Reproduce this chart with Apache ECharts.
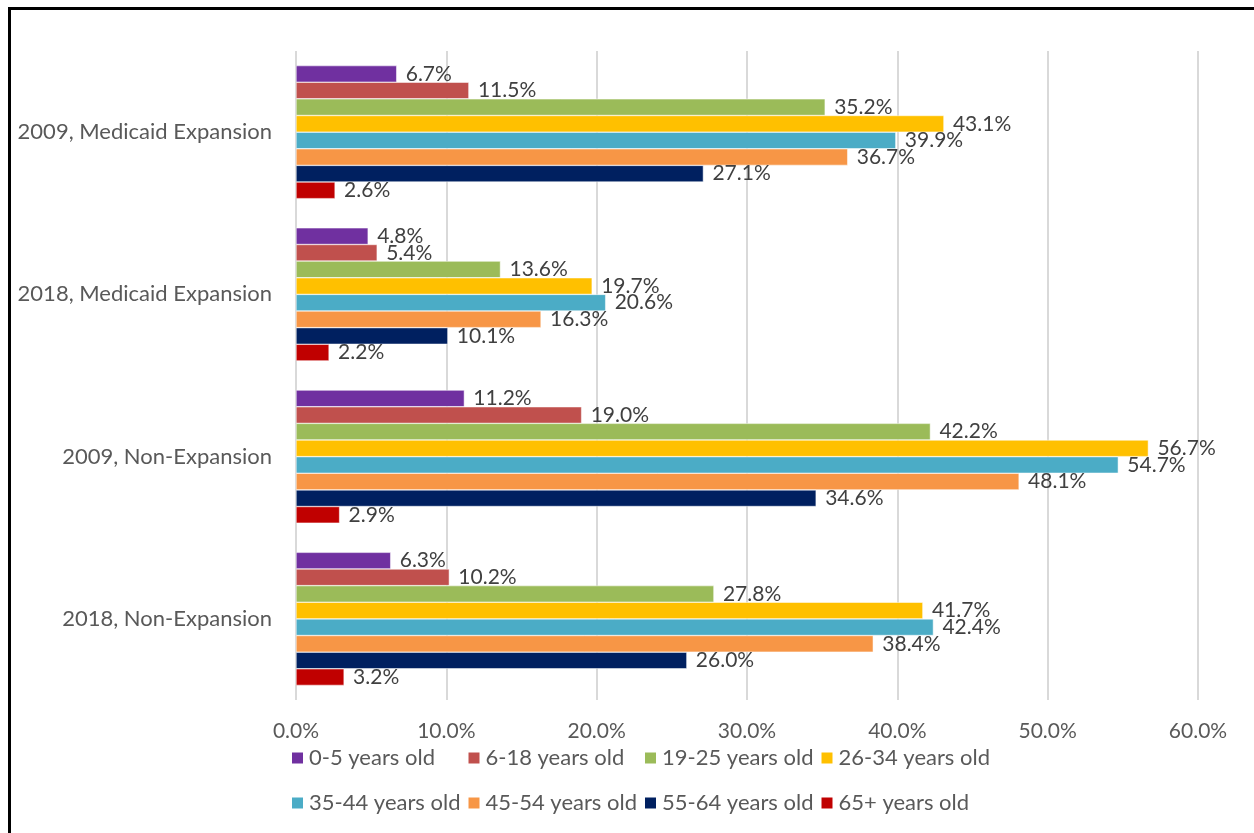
<!DOCTYPE html>
<html>
<head>
<meta charset="utf-8">
<title>Uninsured rate by age group</title>
<script src="https://cdn.jsdelivr.net/npm/echarts@6/dist/echarts.min.js"></script>
<style>
  html, body { margin: 0; padding: 0; height: 100%; background: #fff; overflow: hidden; }
  #main { width: 1254px; height: 833px; }
  #frame { position: absolute; left: 8px; top: 7px; width: 1400px; height: 1000px;
           border: 3px solid #000; box-sizing: border-box; pointer-events: none; }
</style>
</head>
<body>
<div id="main"></div>
<div id="frame"></div>
<script>
var categories = ['2009, Medicaid Expansion', '2018, Medicaid Expansion', '2009, Non-Expansion', '2018, Non-Expansion'];
var groups = ['0-5 years old', '6-18 years old', '19-25 years old', '26-34 years old',
              '35-44 years old', '45-54 years old', '55-64 years old', '65+ years old'];
var colors = ['#7030A0', '#C0504D', '#9BBB59', '#FFC000', '#4BACC6', '#F79646', '#002060', '#C00000'];

// values per age group, one entry per category (%)
var age0_5   = [6.7, 4.8, 11.2, 6.3];
var age6_18  = [11.5, 5.4, 19.0, 10.2];
var age19_25 = [35.2, 13.6, 42.2, 27.8];
var age26_34 = [43.1, 19.7, 56.7, 41.7];
var age35_44 = [39.9, 20.6, 54.7, 42.4];
var age45_54 = [36.7, 16.3, 48.1, 38.4];
var age55_64 = [27.1, 10.1, 34.6, 26.0];
var age65    = [2.6, 2.2, 2.9, 3.2];
var values = [age0_5, age6_18, age19_25, age26_34, age35_44, age45_54, age55_64, age65];

var FONT = 'Lato';
var myChart = echarts.init(document.getElementById('main'));

var series = groups.map(function (name, i) {
  return {
    name: name,
    type: 'bar',
    data: values[i],
    barGap: '0%',
    barCategoryGap: '18%',
    itemStyle: { color: colors[i], borderColor: '#fff', borderWidth: 0.5 },
    label: {
      show: true,
      position: 'right',
      distance: 9,
      color: '#404040',
      fontFamily: FONT,
      fontSize: 21,
      formatter: function (p) { return p.value.toFixed(1) + '%'; }
    },
    animation: false
  };
});

// one legend per item so the entries line up in columns like the original
var legends = groups.map(function (name, i) {
  return {
    data: [name],
    left: 285 + (i % 4) * 176.5,
    top: i < 4 ? 742 : 787,
    itemWidth: 13,
    itemHeight: 13,
    icon: 'rect',
    textStyle: { color: '#595959', fontFamily: FONT, fontSize: 22 }
  };
});

var option = {
  backgroundColor: '#fff',
  color: colors,
  grid: { left: 296, right: 56, top: 51, bottom: 133 },
  legend: legends,
  xAxis: {
    type: 'value',
    min: 0,
    max: 60,
    interval: 10,
    axisLine: { show: false },
    axisTick: { show: false },
    splitLine: { lineStyle: { color: '#D9D9D9', width: 2 } },
    axisLabel: {
      margin: 21,
      color: '#595959',
      fontFamily: FONT,
      fontSize: 21,
      formatter: function (v) { return v.toFixed(1) + '%'; }
    }
  },
  yAxis: {
    type: 'category',
    data: categories,
    inverse: true,
    axisLine: { show: false },
    axisTick: { show: false },
    axisLabel: { margin: 24, color: '#595959', fontFamily: FONT, fontSize: 22 }
  },
  series: series
};
myChart.setOption(option);
</script>
</body>
</html>
